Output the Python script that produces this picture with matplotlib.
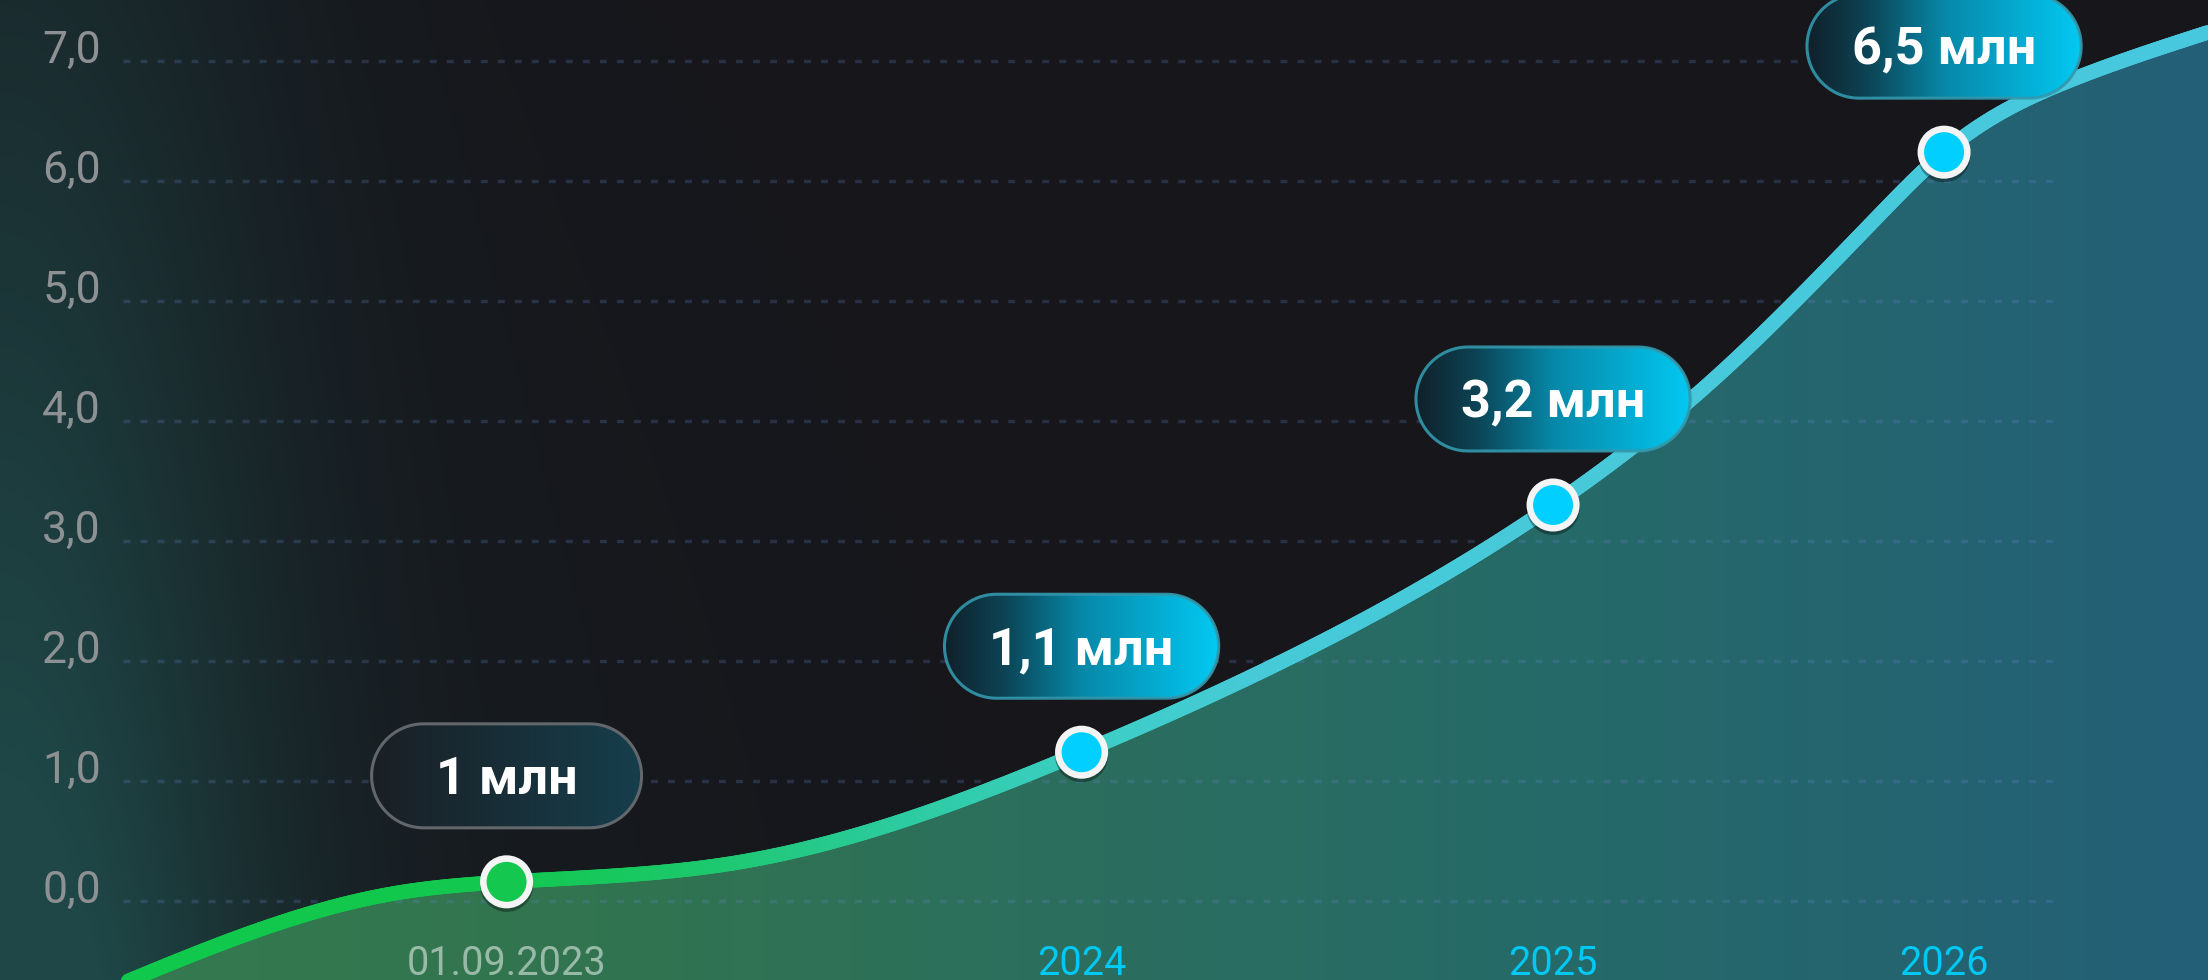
import numpy as np
import matplotlib
matplotlib.use("Agg")
import matplotlib.pyplot as plt
import matplotlib.patheffects as pe
from matplotlib.collections import LineCollection
from matplotlib.colors import LinearSegmentedColormap, to_rgb
from matplotlib.patches import Polygon
from matplotlib.transforms import ScaledTranslation

plt.rcParams['font.family'] = ['Roboto', 'DejaVu Sans']

# data, millions
point_labels = ['01.09.2023', '2024', '2025', '2026']
point_x = [0.0, 1.0, 1.82, 2.5]
point_y = [0.16, 1.24, 3.3, 6.24]
bubble_text = ['1 млн', '1,1 млн', '3,2 млн', '6,5 млн']

# the drawn curve (passes through the points)
curve_x = [-0.69, -0.2, 0.0, 0.4, 0.72, 1.0, 1.38, 1.82, 2.1, 2.39, 2.5, 2.72, 2.96]
curve_y = [-0.73, 0.06, 0.16, 0.32, 0.72, 1.24, 2.07, 3.3, 4.35, 5.73, 6.24, 6.84, 7.24]

y_ticks = [0, 1, 2, 3, 4, 5, 6, 7]
y_tick_labels = ['0,0', '1,0', '2,0', '3,0', '4,0', '5,0', '6,0', '7,0']

W, H = 2208, 980


def spline(x, y, xs):
    # natural cubic spline through the read points, only for drawing
    x = np.asarray(x, float)
    y = np.asarray(y, float)
    n = len(x)
    h = np.diff(x)
    A = np.zeros((n, n))
    r = np.zeros(n)
    A[0, 0] = A[-1, -1] = 1
    for i in range(1, n - 1):
        A[i, i - 1] = h[i - 1]
        A[i, i] = 2 * (h[i - 1] + h[i])
        A[i, i + 1] = h[i]
        r[i] = 6 * ((y[i + 1] - y[i]) / h[i] - (y[i] - y[i - 1]) / h[i - 1])
    M = np.linalg.solve(A, r)
    i = np.clip(np.searchsorted(x, xs) - 1, 0, n - 2)
    a = x[i + 1] - xs
    b = xs - x[i]
    hi = h[i]
    return (M[i] * a**3 / (6 * hi) + M[i + 1] * b**3 / (6 * hi)
            + (y[i] / hi - M[i] * hi / 6) * a + (y[i + 1] / hi - M[i + 1] * hi / 6) * b)


def hgrad(stops, n=400):
    # horizontal gradient image from (fraction, color) stops
    f = np.linspace(0, 1, n)
    pos = [s[0] for s in stops]
    cols = np.array([to_rgb(s[1]) for s in stops])
    row = np.column_stack([np.interp(f, pos, cols[:, c]) for c in range(3)])
    return np.repeat(row[None, :, :], 2, axis=0)


def stadium(x0, y0, w, h, n=40):
    # pill outline with fully round ends
    r = h / 2
    a = np.linspace(-np.pi / 2, np.pi / 2, n)
    right = np.column_stack([x0 + w - r + r * np.cos(a), y0 + r + r * np.sin(a)])
    left = np.column_stack([x0 + r - r * np.cos(a), y0 + r - r * np.sin(a)])
    return np.vstack([right, left])


fig = plt.figure(figsize=(W / 100, H / 100), dpi=100)

# background with teal glow on the left
yy, xx = np.mgrid[0:H, 0:W].astype(float)
base = np.array(to_rgb('#16161b'))
teal = np.array(to_rgb('#1f4747'))
glow = (np.exp(-(xx / 260.0) ** 2) * (0.4 + 0.6 * yy / H)
        + 0.15 * np.exp(-(xx / 700.0) ** 2) * (0.3 + 0.7 * yy / H))
glow = np.clip(glow, 0, 1)[..., None]
bg = base + glow * (teal - base)
fig.figimage(bg, 0, 0, origin='upper', zorder=0)

ax = fig.add_axes([0, 0, 1, 1], zorder=2)
ax.set_facecolor('none')
ax.axis('off')
x_lo, x_hi = -0.881, 2.959
y_lo, y_hi = -0.658, 7.508

xs = np.linspace(curve_x[0], curve_x[-1], 900)
ys = spline(curve_x, curve_y, xs)

# gradient area under the curve
verts = np.column_stack([np.r_[xs, xs[-1], xs[0]], np.r_[ys, y_lo - 1, y_lo - 1]])
area = Polygon(verts, closed=True, facecolor='none', edgecolor='none')
ax.add_patch(area)
fill_img = hgrad([(0.0, '#367b4f'), (0.27, '#317450'), (0.5, '#2b6e5f'),
                  (0.7, '#266a68'), (1.0, '#235f77')])
im = ax.imshow(fill_img, extent=[x_lo, x_hi, y_lo, y_hi], aspect='auto',
               interpolation='bilinear', zorder=1)
im.set_clip_path(area)
ax.set_xlim(x_lo, x_hi)
ax.set_ylim(y_lo, y_hi)

# dashed grid
for yv in y_ticks:
    ax.axhline(yv, xmin=123 / W, xmax=2058 / W, color=(0.40, 0.52, 0.80, 0.24),
               lw=2.5, linestyle=(0, (2.0, 2.9)), zorder=2)

# y labels
lab_off = ScaledTranslation(0, 0.10, fig.dpi_scale_trans)
for yv, lab in zip(y_ticks, y_tick_labels):
    ax.text(101 / W, yv, lab, transform=ax.get_yaxis_transform() + lab_off,
            ha='right', va='center', fontsize=32, color='#8e9194')

# gradient line
line_cmap = LinearSegmentedColormap.from_list('line', [
    (0.0, '#0fc84b'), (0.23, '#12c84e'), (0.32, '#1cc86c'), (0.41, '#2ccba0'),
    (0.49, '#3bcec2'), (0.57, '#46cad8'), (1.0, '#48c8de')])
pts = np.column_stack([xs, ys])
segs = np.stack([pts[:-1], pts[1:]], axis=1)
mid = (xs[:-1] + xs[1:]) / 2
lc = LineCollection(segs, colors=line_cmap((mid - x_lo) / (x_hi - x_lo)),
                    linewidths=10.5, capstyle='round', zorder=3)
ax.add_collection(lc)

# markers
marker_colors = ['#14c84f', '#00cfff', '#00cfff', '#00cfff']
for px, py, mc in zip(point_x, point_y, marker_colors):
    ax.plot(px, py, 'o', ms=33.5, mfc=mc, mec='#f4f4f4', mew=4.7, zorder=5,
            path_effects=[pe.SimpleLineShadow(offset=(0, -2.5), shadow_color='black', alpha=0.35),
                          pe.Normal()])

# x labels at the bottom
label_colors = [(1, 1, 1, 0.5), '#00c8f5', '#00c8f5', '#00c8f5']
for px, lab, lc_ in zip(point_x, point_labels, label_colors):
    ax.text(px, 0.005, lab, transform=ax.get_xaxis_transform(), ha='center',
            va='baseline', fontsize=28.5, color=lc_, zorder=6)

# bubbles, drawn in pixel space on top
ov = fig.add_axes([0, 0, 1, 1], zorder=10)
ov.set_facecolor('none')
ov.axis('off')

disp = ax.transData.transform(np.column_stack([point_x, point_y]))
renderer = fig.canvas.get_renderer()
pill_h = 104
grad_dark = [(0.0, '#1b1f25'), (1.0, '#163e4c')]
grad_cyan = [(0.0, '#11202a'), (0.22, '#0c4455'), (0.5, '#0788a8'), (1.0, '#02c9f2')]
for k, txt in enumerate(bubble_text):
    cx = disp[k, 0]
    cy = H - disp[k, 1] - 106
    t = ov.text(cx, cy + 18.5, txt, ha='center', va='baseline', fontsize=37.5,
                fontweight='bold', color='white', zorder=13)
    tw = t.get_window_extent(renderer=renderer).width
    pw = max(270, tw + 90)
    x0, y0 = cx - pw / 2, cy - pill_h / 2
    first = k == 0
    box = Polygon(stadium(x0, y0, pw, pill_h), closed=True, facecolor='none',
                  edgecolor='#62676c' if first else (0.2, 0.6, 0.68, 0.9),
                  lw=2.2, zorder=12)
    ov.add_patch(box)
    gim = ov.imshow(hgrad(grad_dark if first else grad_cyan),
                    extent=[x0, x0 + pw, y0 + pill_h, y0], aspect='auto',
                    interpolation='bilinear', zorder=11)
    gim.set_clip_path(box)

ov.set_xlim(0, W)
ov.set_ylim(H, 0)

fig.savefig('out.png', dpi=100)
